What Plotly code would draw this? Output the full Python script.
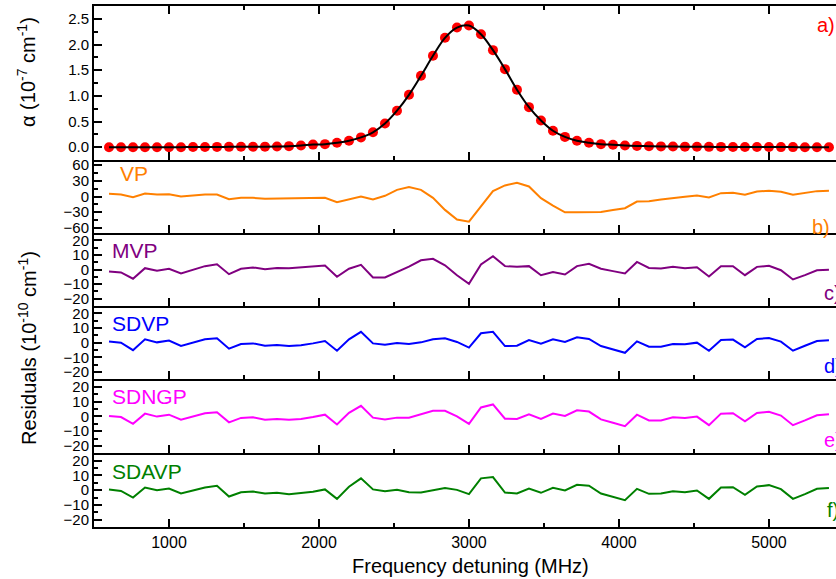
import plotly.graph_objects as go

# ---------------- data ----------------
freq = [600, 680, 760, 840, 920, 1000, 1080, 1160, 1240, 1320,
        1400, 1480, 1560, 1640, 1720, 1800, 1880, 1960, 2040, 2120,
        2200, 2280, 2360, 2440, 2520, 2600, 2680, 2760, 2840, 2920,
        3000, 3080, 3160, 3240, 3320, 3400, 3480, 3560, 3640, 3720,
        3800, 3880, 3960, 4040, 4120, 4200, 4280, 4360, 4440, 4520,
        4600, 4680, 4760, 4840, 4920, 5000, 5080, 5160, 5240, 5320,
        5400]

alpha = [0.0, 0.0, 0.0, 0.0, 0.0, 0.0, 0.0, 0.003, 0.004, 0.005,
         0.006, 0.007, 0.008, 0.01, 0.014, 0.02, 0.033, 0.05, 0.059, 0.085,
         0.124, 0.19, 0.29, 0.46, 0.71, 1.02, 1.39, 1.78, 2.13, 2.33,
         2.37, 2.20, 1.89, 1.52, 1.12, 0.78, 0.52, 0.32, 0.20, 0.124,
         0.085, 0.059, 0.046, 0.033, 0.025, 0.02, 0.015, 0.012, 0.01, 0.008,
         0.006, 0.005, 0.004, 0.003, 0.002, 0.002, 0.001, 0.001, 0.0, 0.0,
         0.0]

res_vp = [5.1, 3.9, -1.3, 5.8, 3.9, 4.5, 0.0, 1.9, 3.9, 3.9,
          -5.1, -2.6, -2.6, -4.5, -3.9, -4.5, -3.9, -2.6, -2.6, -10.9,
          -5.8, 0.0, -5.8, 1.3, 12.8, 18.0, 12.8, -2.6, -25.7, -44.3,
          -48.2, -19.0, 10.3, 21.2, 26.3, 19.3, -3.2, -17.3, -30.2, -30.2,
          -29.5, -29.5, -25.7, -22.5, -9.6, -9.0, -5.8, -2.6, -0.6, 1.9,
          -1.9, 6.4, 7.1, 3.2, 9.6, 10.9, 9.0, 3.2, 6.4, 10.3,
          10.9]

res_mvp = [-1.4, -2.0, -6.3, 0.9, -0.9, 0.5, -2.7, -0.2, 2.3, 3.6,
           -3.2, 0.5, 1.4, 0.2, 1.1, 0.9, 1.4, 2.0, 2.7, -5.0,
           0.5, 3.2, -5.4, -5.4, -1.8, 2.0, 6.3, 7.3, 2.9, -3.9,
           -9.8, 3.4, 9.1, 2.3, 1.8, 2.3, -3.9, -1.8, -3.4, 2.3,
           3.9, 0.5, -1.1, -2.7, 5.2, 1.1, 0.7, 1.8, 0.9, 1.6,
           -4.8, 2.3, 2.3, -3.9, 1.8, 2.5, -0.5, -6.8, -3.9, -0.5,
           -0.2]

res_sdvp = [0.7, 0.0, -5.1, 2.3, 0.2, 1.4, -2.3, 0.2, 2.3, 3.0,
            -4.1, -0.9, -0.5, -2.1, -1.6, -2.3, -1.8, -0.5, 1.1, -5.5,
            2.3, 7.4, -0.5, -1.4, -0.2, -0.9, 0.2, 2.3, 3.0, 0.5,
            -3.4, 6.4, 7.4, -2.3, -2.1, 1.8, -0.7, 2.3, 0.5, 3.7,
            2.5, -2.3, -4.6, -6.9, 0.9, -2.8, -2.8, -0.9, -1.1, 0.0,
            -5.5, 1.8, 2.1, -3.2, 2.5, 3.2, 0.7, -5.5, -2.1, 1.1,
            1.6]

res_sdngp = [0.2, -0.5, -5.1, 1.8, -0.2, 1.1, -2.3, 0.0, 2.1, 2.8,
             -4.1, -1.1, -0.7, -2.3, -1.8, -2.3, -1.8, -0.5, 1.1, -5.5,
             2.3, 7.1, -0.9, -2.1, -0.9, -0.9, 1.4, 3.7, 3.7, 0.0,
             -5.1, 6.0, 8.0, -1.6, -1.8, 1.4, -1.8, 1.8, 0.2, 4.1,
             3.2, -2.1, -4.4, -6.7, 1.1, -2.8, -2.8, -0.7, -1.1, -0.2,
             -6.0, 1.8, 2.1, -3.4, 2.3, 3.0, 0.5, -6.0, -2.8, 0.7,
             1.4]

res_sdavp = [0.5, -0.5, -5.0, 1.8, 0.0, 1.1, -2.3, 0.0, 1.8, 3.0,
             -4.3, -1.4, -0.9, -2.3, -1.8, -2.7, -2.0, -1.1, 0.5, -5.9,
             2.3, 8.0, 0.5, -0.7, 0.2, -1.4, -1.6, 0.0, 1.4, 0.2,
             -2.7, 8.0, 8.9, -1.6, -2.3, 1.1, -1.8, 1.6, -0.2, 3.6,
             3.0, -2.3, -4.5, -6.8, 0.9, -2.5, -2.3, -0.7, -1.4, -0.2,
             -5.9, 1.8, 2.0, -3.2, 2.5, 3.4, 0.7, -5.9, -2.7, 0.9,
             1.4]

models = ["VP", "MVP", "SDVP", "SDNGP", "SDAVP"]
panel_tags = ["a)", "b)", "c)", "d)", "e)", "f)"]
model_colors = ["#FF8000", "#800080", "#0000FF", "#FF00FF", "#008000"]
residuals = [res_vp, res_mvp, res_sdvp, res_sdngp, res_sdavp]

# ---------------- figure ----------------
W, H = 836, 579
ML, MR, MT, MB = 94, 0, 6, 52
PW, PH = W - ML - MR, H - MT - MB
FONT = "Arial, Liberation Sans, sans-serif"


def px_x(px):
    return (px - ML) / PW


def px_y(py):
    return (H - MB - py) / PH


# panel pixel boundaries (top, bottom)
bounds = [(6, 160), (160, 233), (233, 306), (306, 379.3), (379.3, 453.3), (453.3, 527)]

fig = go.Figure()

fig.add_trace(go.Scatter(x=freq, y=alpha, mode="markers",
                         marker=dict(color="#FF0000", size=10),
                         xaxis="x", yaxis="y", showlegend=False))
fig.add_trace(go.Scatter(x=freq, y=alpha, mode="lines",
                         line=dict(color="black", width=2, shape="spline", smoothing=1.0),
                         xaxis="x", yaxis="y", showlegend=False))

for i, (vals, col) in enumerate(zip(residuals, model_colors)):
    k = i + 2
    fig.add_trace(go.Scatter(x=freq, y=vals, mode="lines",
                             line=dict(color=col, width=2),
                             xaxis=f"x{k}", yaxis=f"y{k}", showlegend=False))

xrange = [500, 5447]
layout = dict(
    width=W, height=H,
    margin=dict(l=ML, r=MR, t=MT, b=MB),
    paper_bgcolor="white", plot_bgcolor="white",
    font=dict(family=FONT, color="black", size=15),
    showlegend=False,
)

yranges = [[-0.25, 2.75], [-70, 70], [-25, 25], [-25, 25], [-25, 25], [-25, 25]]
ydticks = [0.5, 30, 10, 10, 10, 10]
yminor = [0.25, 15, 5, 5, 5, 5]

for i in range(6):
    k = "" if i == 0 else str(i + 1)
    top, bot = bounds[i]
    dom = [px_y(bot), px_y(top)]
    ax = dict(
        domain=[0, 1], range=xrange, anchor=f"y{k}",
        showline=True, linecolor="black", linewidth=2,
        ticks="inside", ticklen=8, tickwidth=2, tickcolor="black",
        tick0=0, dtick=1000,
        minor=dict(ticks="inside", ticklen=4, tickwidth=2, tickcolor="black", dtick=500, tick0=0),
        showgrid=False, zeroline=False,
        showticklabels=(i == 5),
        tickfont=dict(size=16, family=FONT),
    )
    if i == 0:
        ax["mirror"] = "ticks"
    else:
        ax["matches"] = "x"
    layout[f"xaxis{k}"] = ax
    ay = dict(
        domain=dom, range=yranges[i], anchor=f"x{k}",
        showline=True, linecolor="black", linewidth=2,
        ticks="inside", ticklen=8, tickwidth=2, tickcolor="black",
        tick0=0, dtick=ydticks[i],
        minor=dict(ticks="inside", ticklen=4, tickwidth=2, tickcolor="black",
                   dtick=yminor[i], tick0=0),
        showgrid=False, zeroline=False,
        tickfont=dict(size=15, family=FONT),
    )
    if i == 0:
        ay["tickformat"] = ".1f"
    layout[f"yaxis{k}"] = ay

fig.update_layout(**layout)

annotations = []
# model names
name_pos = [(118, 174), (110, 250), (110, 323), (110, 396.7), (110, 471.7)]
for name, col, (xp, yp) in zip(models, model_colors, name_pos):
    annotations.append(dict(text=name, x=px_x(xp), y=px_y(yp), xref="paper", yref="paper",
                            xanchor="left", yanchor="middle", showarrow=False,
                            font=dict(size=21, color=col, family=FONT)))
# panel tags
tag_colors = ["#FF0000"] + model_colors
tag_pos = [(815, 25), (810, 226.7), (821.7, 293.3), (821.7, 366), (821.7, 440), (825, 510)]
for tag, col, (xp, yp) in zip(panel_tags, tag_colors, tag_pos):
    annotations.append(dict(text=tag, x=px_x(xp), y=px_y(yp), xref="paper", yref="paper",
                            xanchor="left", yanchor="middle", showarrow=False,
                            font=dict(size=20, color=col, family=FONT)))
# axis titles
annotations.append(dict(text="α (10<sup>-7</sup> cm<sup>-1</sup>)", x=px_x(27), y=px_y(72),
                        xref="paper", yref="paper", xanchor="center", yanchor="middle",
                        textangle=-90, showarrow=False, font=dict(size=20, family=FONT)))
annotations.append(dict(text="Residuals (10<sup>-10</sup> cm<sup>-1</sup>)", x=px_x(27), y=px_y(348),
                        xref="paper", yref="paper", xanchor="center", yanchor="middle",
                        textangle=-90, showarrow=False, font=dict(size=20, family=FONT)))
annotations.append(dict(text="Frequency detuning (MHz)", x=px_x(470.5), y=px_y(566),
                        xref="paper", yref="paper", xanchor="center", yanchor="middle",
                        showarrow=False, font=dict(size=20, family=FONT)))
fig.update_layout(annotations=annotations)

fig.write_html(
    "out.html",
    config={"displayModeBar": False},
    post_script="document.body.style.margin='0';document.body.style.padding='0';"
                "document.documentElement.style.overflow='hidden';",
)
